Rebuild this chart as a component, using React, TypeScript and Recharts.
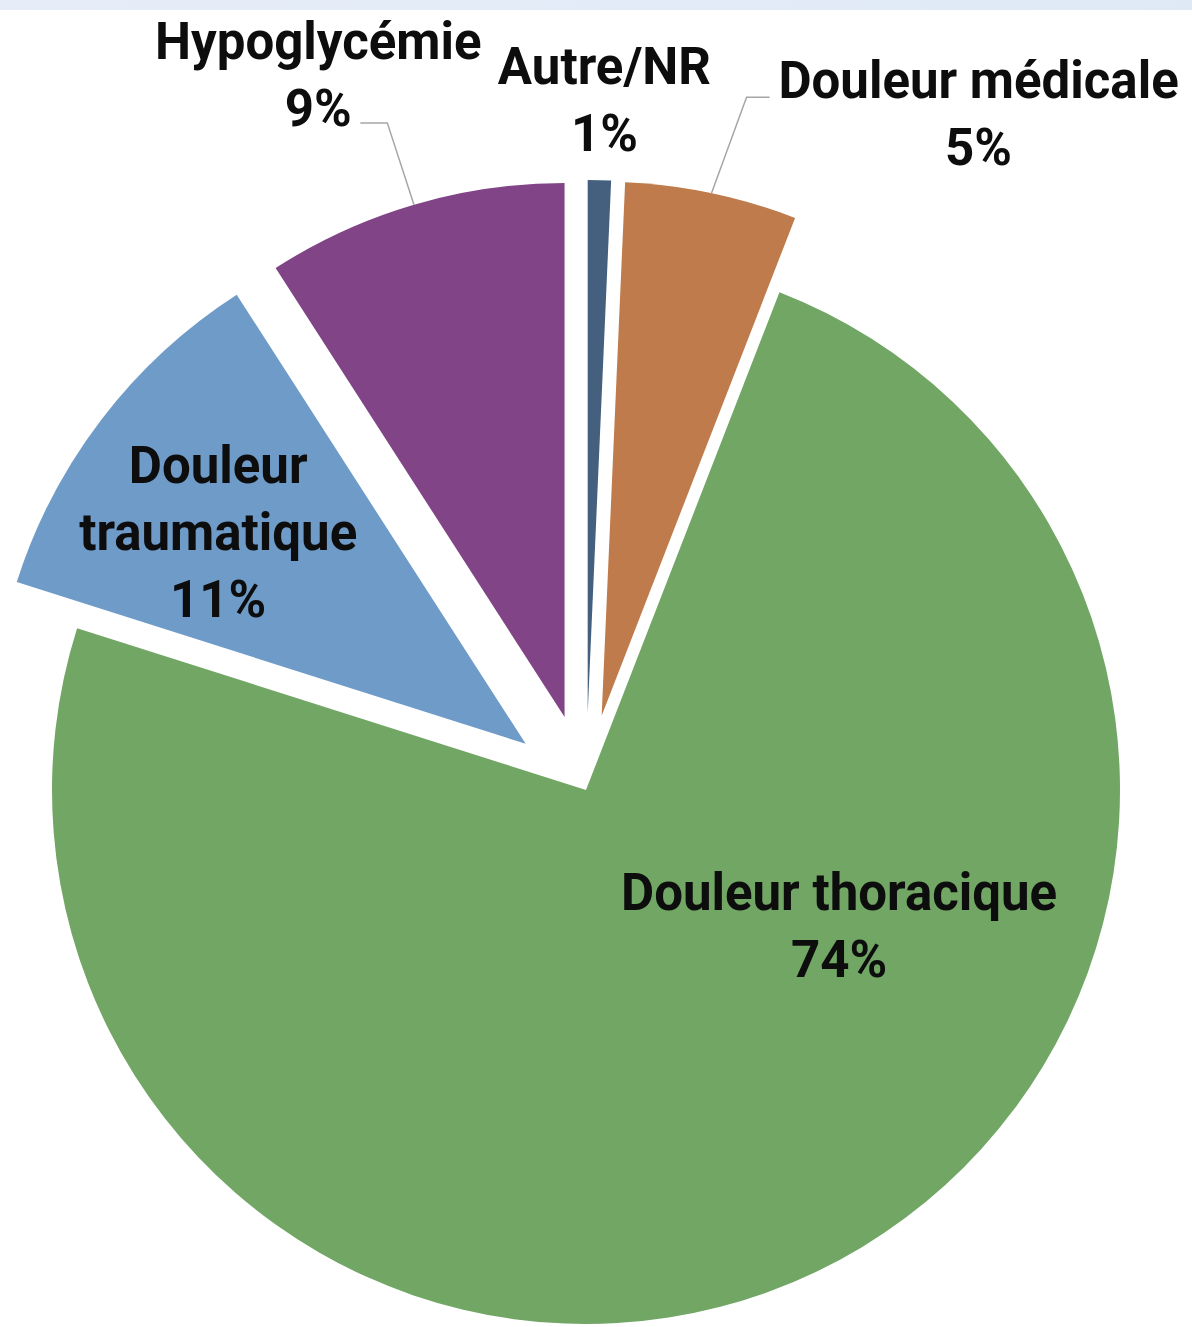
import React from 'react';
import { PieChart, Pie, Cell } from 'recharts';

const categories = ['Autre/NR', 'Douleur médicale', 'Douleur thoracique', 'Douleur traumatique', 'Hypoglycémie'];
const shares = [0.7, 5.2, 74.0, 11.0, 9.1];
const labelText = [['Autre/NR'], ['Douleur médicale'], ['Douleur thoracique'], ['Douleur', 'traumatique'], ['Hypoglycémie']];

const data = categories.map((name, i) => ({ name, value: shares[i] }));

const COLORS = ['#44607e', '#bf7b4b', '#71a664', '#6f9bc8', '#814486'];
const EXPLODE = [76, 76, 0, 76, 76];

// label centre: distance as a fraction of the radius, angle shift (deg) from the slice middle
const LABEL_PLACE = [
  { r: 1.151, shift: 0.3 },
  { r: 1.329, shift: 20.2 },
  { r: 0.538, shift: -36.2 },
  { r: 0.699, shift: -2.9 },
  { r: 1.288, shift: -4.6 },
];
// leader lines: elbow offset from label centre, then a short horizontal run
const LEADERS: ({ dx: number; dy: number; run: number } | null)[] = [
  null,
  { dx: -232, dy: -17, run: 23 },
  null,
  null,
  { dx: 69, dy: 48, run: -27 },
];

const W = 1192;
const H = 1327;
const CX = 586;
const CY = 790;
const R = 534;
const FONT = 51;
const LINE = 67;

const total = shares.reduce((a, b) => a + b, 0);
// clockwise angle from 12 o'clock of each slice middle
const midTheta = shares.map((v, i) => {
  const before = shares.slice(0, i).reduce((a, b) => a + b, 0);
  return ((before + v / 2) / total) * 360;
});

const makeLabel = (slot: number) => (props: any) => {
  if (props.index !== slot) return null;
  const { cx, cy, midAngle, outerRadius, percent } = props;
  const theta = 90 - midAngle;
  const place = LABEL_PLACE[slot];
  const a = ((theta + place.shift) * Math.PI) / 180;
  const lx = cx + outerRadius * place.r * Math.sin(a);
  const ly = cy - outerRadius * place.r * Math.cos(a);
  const lines = [...labelText[slot], `${Math.round(percent * 100)}%`];
  const lead = LEADERS[slot];
  const t = (theta * Math.PI) / 180;
  return (
    <g>
      {lead && (
        <polyline
          points={`${cx + outerRadius * Math.sin(t)},${cy - outerRadius * Math.cos(t)} ${lx + lead.dx},${ly + lead.dy} ${lx + lead.dx + lead.run},${ly + lead.dy}`}
          fill="none"
          stroke="#a6a6a6"
          strokeWidth={1.5}
        />
      )}
      <text
        x={lx}
        y={ly}
        textAnchor="middle"
        fill="#0d0d0d"
        style={{ fontFamily: 'Roboto, sans-serif', fontWeight: 700, fontSize: FONT }}
      >
        {lines.map((ln, k) => (
          <tspan key={k} x={lx} y={ly + (k - (lines.length - 1) / 2) * LINE} dominantBaseline="central">
            {ln}
          </tspan>
        ))}
      </text>
    </g>
  );
};

const App: React.FC = () => (
  <div style={{ position: 'absolute', left: 0, top: 0, width: W, height: H, background: '#fff' }}>
    <div
      style={{
        position: 'absolute',
        left: 0,
        top: 0,
        width: W,
        height: 10,
        background: 'linear-gradient(90deg, #e6edf8, #dfe9f6)',
      }}
    />
    <PieChart width={W} height={H} margin={{ top: 0, right: 0, bottom: 0, left: 0 }}>
      {data.map((_, slot) => {
        const e = EXPLODE[slot];
        const t = (midTheta[slot] * Math.PI) / 180;
        return (
          <Pie
            key={slot}
            data={data}
            dataKey="value"
            nameKey="name"
            cx={CX + e * Math.sin(t)}
            cy={CY - e * Math.cos(t)}
            outerRadius={R}
            startAngle={90}
            endAngle={-270}
            isAnimationActive={false}
            labelLine={false}
            label={makeLabel(slot)}
          >
            {data.map((d, i) => (
              <Cell
                key={d.name}
                fill={i === slot ? COLORS[i] : 'transparent'}
                stroke="none"
              />
            ))}
          </Pie>
        );
      })}
    </PieChart>
  </div>
);

export default App;
